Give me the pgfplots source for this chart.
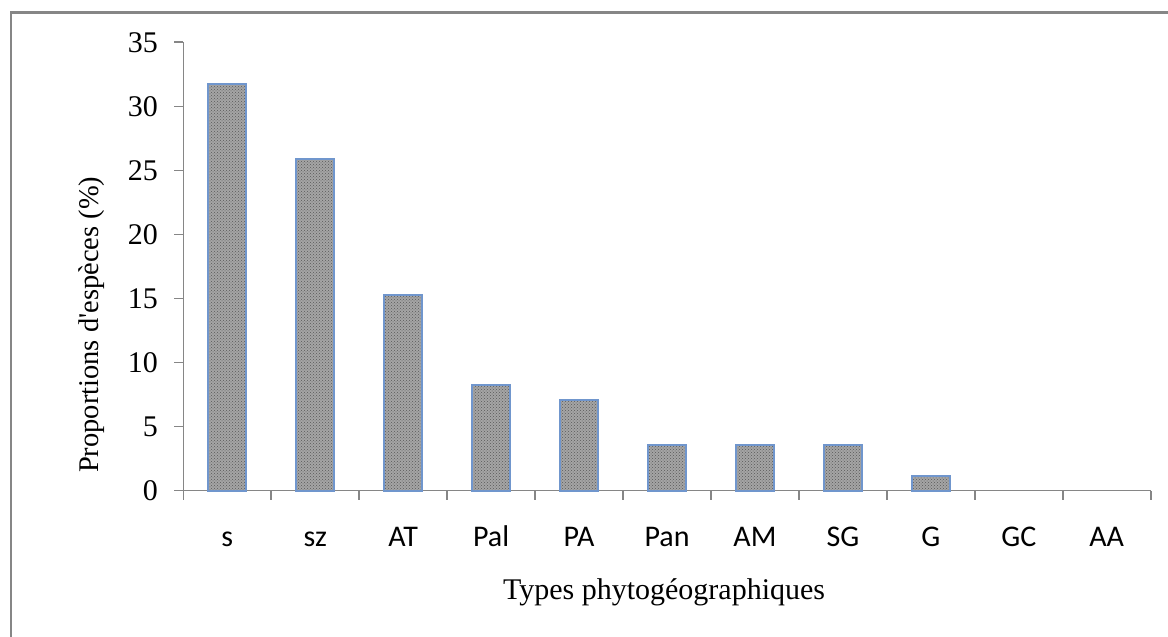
\documentclass[border=0pt]{standalone}
\usepackage{pgfplots}
\pgfplotsset{compat=1.18}
\usetikzlibrary{patterns}
\usepackage{fontspec}
\setmainfont{Liberation Serif}
\newfontfamily\calibri{Carlito}
\definecolor{axgray}{RGB}{134,134,134}
\definecolor{barblue}{RGB}{112,150,205}
\definecolor{barfill}{RGB}{165,165,165}
\begin{document}
\begin{tikzpicture}
\useasboundingbox (0,0) rectangle (1168pt,637pt);
\draw[axgray, line width=2.5pt] (11pt,0) -- (11pt,624.3pt) -- (1168pt,624.3pt);
\begin{axis}[
  at={(183.3pt,146.3pt)}, anchor=south west,
  scale only axis, width=967.4pt, height=448.4pt,
  xmin=-0.5, xmax=10.5, ymin=0, ymax=35,
  axis x line*=bottom, axis y line*=left,
  axis line style={axgray, line width=1.6pt, -},
  ytick={0,5,...,35},
  xtick={0,...,10},
  xticklabels={s,sz,AT,Pal,PA,Pan,AM,SG,G,GC,AA},
  minor xtick={-0.5,0.5,...,10.5},
  tick align=outside,
  major tick length=9pt, minor tick length=9pt,
  major x tick style={draw=none},
  tick style={axgray, line width=1.6pt},
  every tick label/.append style={font=\fontsize{30}{34}\selectfont},
  xticklabel style={font=\calibri\fontsize{30}{34}\selectfont, anchor=base, yshift=-47pt},
  yticklabel style={xshift=-13pt},
  /pgf/number format/assume math mode=true,
  xlabel={Types phytogéographiques},
  xlabel style={font=\fontsize{30}{34}\selectfont, at={(axis description cs:0.497,-0.2437)}, anchor=base},
  ylabel={Proportions d\textquotesingle esp\`eces (\%)},
  ylabel style={font=\fontsize{28.5}{32}\selectfont, at={(axis description cs:-0.0944,0.37)}, anchor=center, rotate=0},
  ybar, bar width=38pt,
  clip=false,
]
\addplot[draw=barblue, line width=2pt, fill=barfill,
  postaction={pattern=crosshatch dots, pattern color=black!65}]
  coordinates {(0,31.76) (1,25.88) (2,15.29) (3,8.24) (4,7.06) (5,3.53) (6,3.53) (7,3.53) (8,1.18)};
\end{axis}
\end{tikzpicture}
\end{document}
